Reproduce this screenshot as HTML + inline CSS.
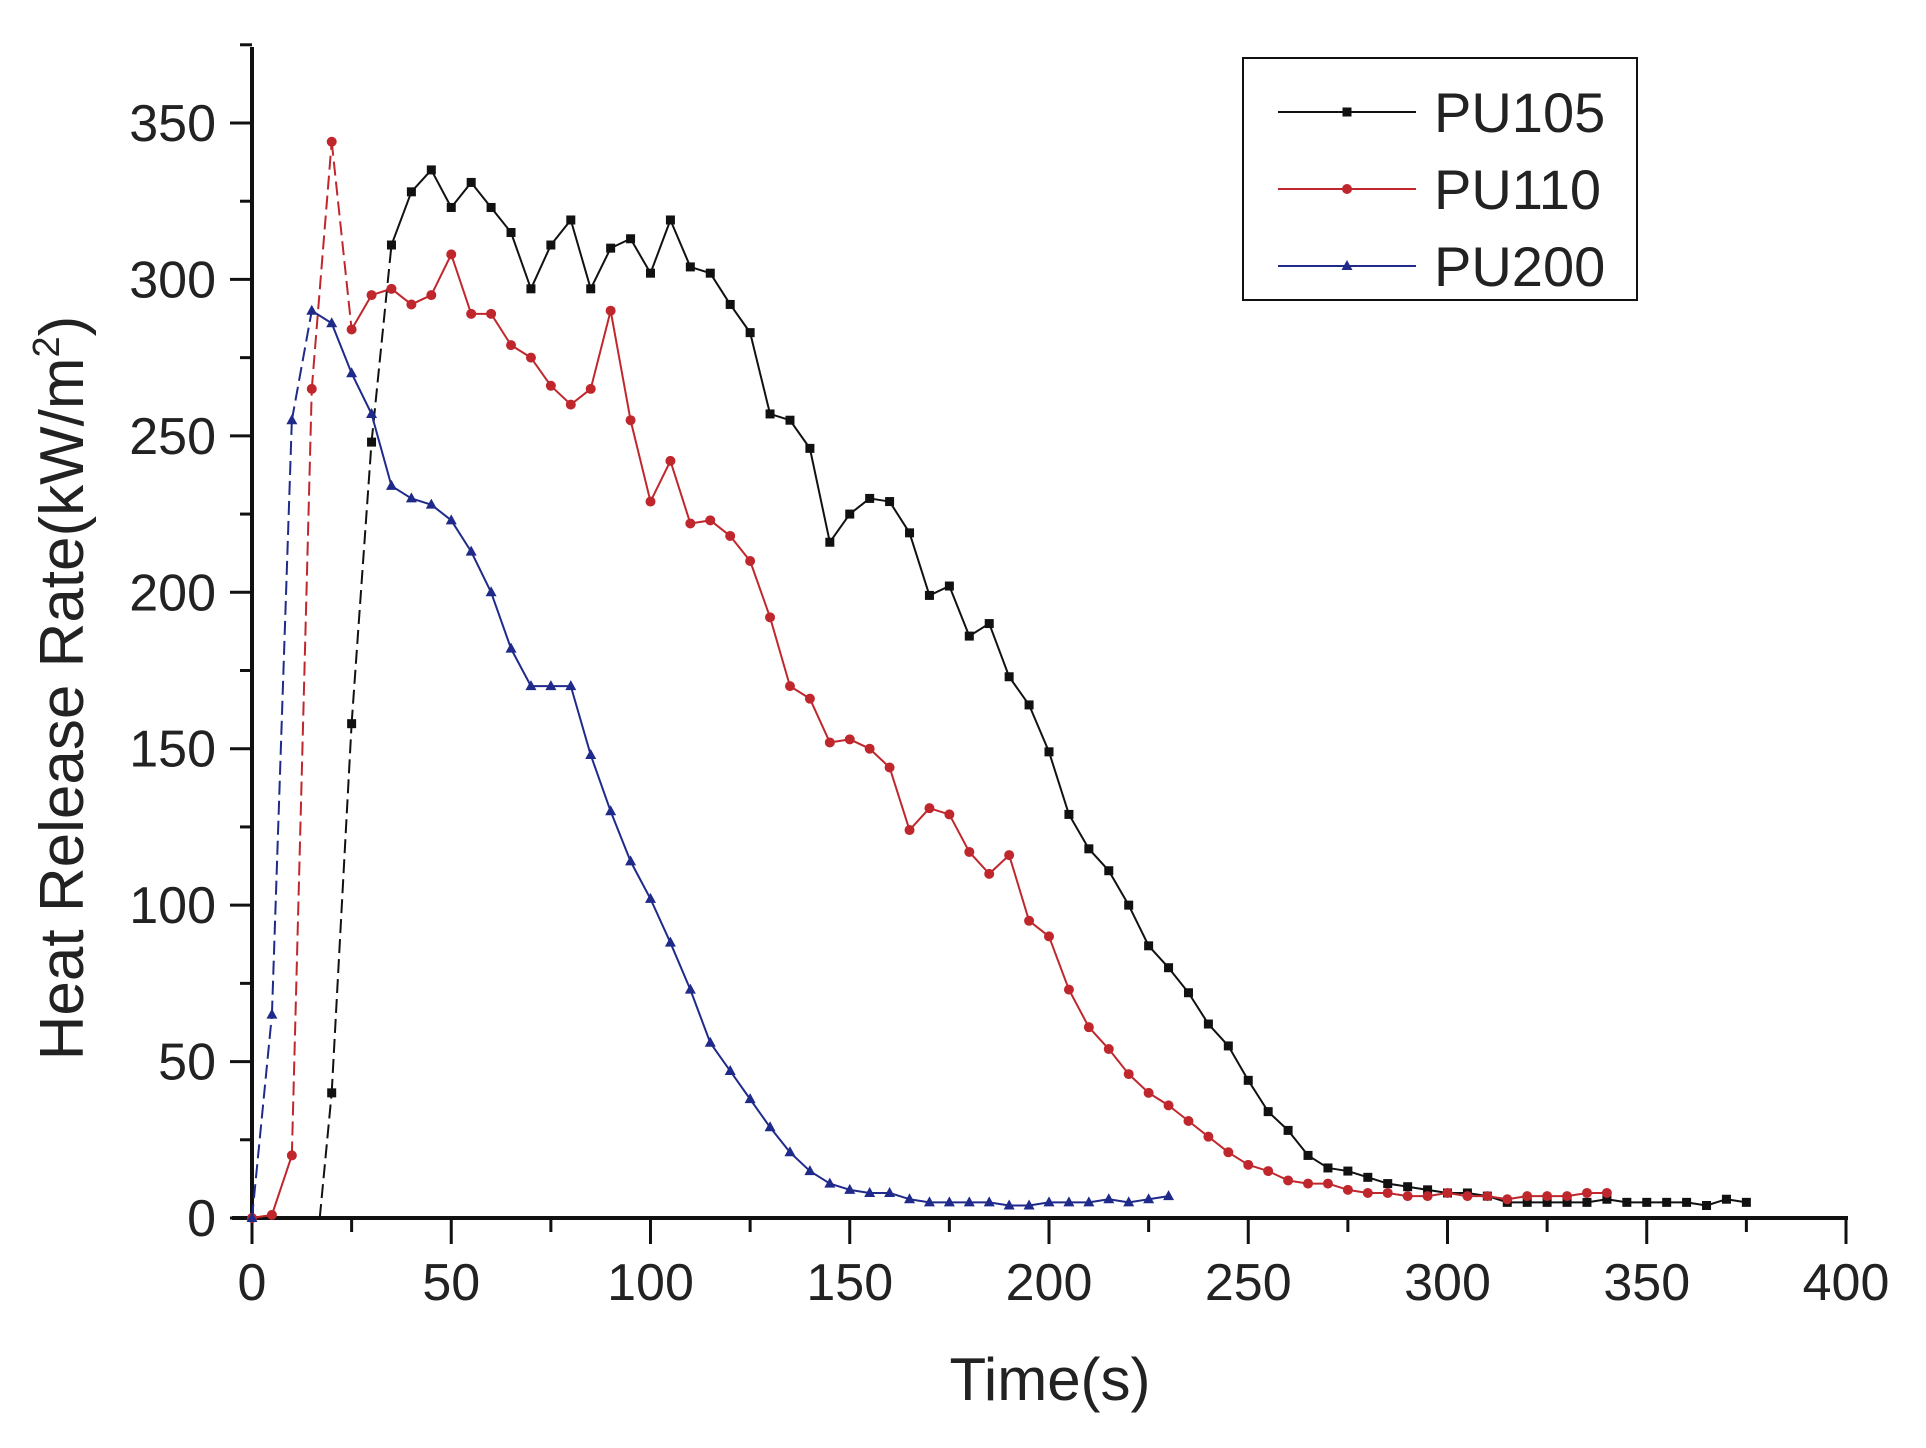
<!DOCTYPE html>
<html><head><meta charset="utf-8"><style>
body{margin:0;background:#fff;}
svg text{font-family:"Liberation Sans",sans-serif;}
</style></head><body>
<svg id="chart" width="1926" height="1443" viewBox="0 0 1926 1443" xmlns="http://www.w3.org/2000/svg"></svg>
<script>
const xTicks=[0,50,100,150,200,250,300,350,400];
const yTicks=[0,50,100,150,200,250,300,350];
const seriesNames=["PU105","PU110","PU200"];
const pu105T=[17,20,25,30,35,40,45,50,55,60,65,70,75,80,85,90,95,100,105,110,115,120,125,130,135,140,145,150,155,160,165,170,175,180,185,190,195,200,205,210,215,220,225,230,235,240,245,250,255,260,265,270,275,280,285,290,295,300,305,310,315,320,325,330,335,340,345,350,355,360,365,370,375];
const pu105V=[0,40,158,248,311,328,335,323,331,323,315,297,311,319,297,310,313,302,319,304,302,292,283,257,255,246,216,225,230,229,219,199,202,186,190,173,164,149,129,118,111,100,87,80,72,62,55,44,34,28,20,16,15,13,11,10,9,8,8,7,5,5,5,5,5,6,5,5,5,5,4,6,5];
const pu110T=[0,5,10,15,20,25,30,35,40,45,50,55,60,65,70,75,80,85,90,95,100,105,110,115,120,125,130,135,140,145,150,155,160,165,170,175,180,185,190,195,200,205,210,215,220,225,230,235,240,245,250,255,260,265,270,275,280,285,290,295,300,305,310,315,320,325,330,335,340];
const pu110V=[0,1,20,265,344,284,295,297,292,295,308,289,289,279,275,266,260,265,290,255,229,242,222,223,218,210,192,170,166,152,153,150,144,124,131,129,117,110,116,95,90,73,61,54,46,40,36,31,26,21,17,15,12,11,11,9,8,8,7,7,8,7,7,6,7,7,7,8,8];
const pu200T=[0,5,10,15,20,25,30,35,40,45,50,55,60,65,70,75,80,85,90,95,100,105,110,115,120,125,130,135,140,145,150,155,160,165,170,175,180,185,190,195,200,205,210,215,220,225,230];
const pu200V=[0,65,255,290,286,270,257,234,230,228,223,213,200,182,170,170,170,148,130,114,102,88,73,56,47,38,29,21,15,11,9,8,8,6,5,5,5,5,4,4,5,5,5,6,5,6,7];
const dashUntil=[35,20,15];
const colors=["#111","#c0272d","#1f2a8a"];
const markers=["square","circle","triangle"];

const X0=252,X1=1846,Y0=1218,Y1=123;
const xs=v=>X0+(v-0)/(400)*(X1-X0);
const ys=v=>Y0-(v)/(350)*(Y0-Y1);
const svg=document.getElementById('chart');
const NS="http://www.w3.org/2000/svg";
function mk(tag,attrs,parent){const e=document.createElementNS(NS,tag);for(const k in attrs)e.setAttribute(k,attrs[k]);(parent||svg).appendChild(e);return e;}

let g=mk('g',{});


mk('line',{x1:X0,y1:47,x2:X0,y2:Y0+2,stroke:'#111','stroke-width':4},g);
mk('line',{x1:X0-20,y1:Y0,x2:X1+2,y2:Y0,stroke:'#111','stroke-width':4},g);
for(let i=0;i<xTicks.length;i++){
  const x=xs(xTicks[i]);
  mk('line',{x1:x,y1:Y0,x2:x,y2:Y0+26,stroke:'#111','stroke-width':3},g);
  if(i<xTicks.length-1){const xm=xs(xTicks[i]+25);mk('line',{x1:xm,y1:Y0,x2:xm,y2:Y0+14,stroke:'#111','stroke-width':3},g);}
  const t=mk('text',{x:x,y:Y0+82,'font-size':52,'text-anchor':'middle',fill:'#222'},g);
  t.textContent=xTicks[i];
  
  
}
for(let i=0;i<yTicks.length;i++){
  const y=ys(yTicks[i]);
  mk('line',{x1:X0-22,y1:y,x2:X0,y2:y,stroke:'#111','stroke-width':3},g);
  const ym=ys(yTicks[i]+25);
  mk('line',{x1:X0-12,y1:ym,x2:X0,y2:ym,stroke:'#111','stroke-width':3},g);
  const t=mk('text',{x:X0-36,y:y+18,'font-size':52,'text-anchor':'end',fill:'#222'},g);
  t.textContent=yTicks[i];
  
  
}
let xt=mk('text',{x:1050,y:1400,'font-size':60,'text-anchor':'middle',fill:'#222'});
xt.textContent='Time(s)';


let yt=mk('text',{x:0,y:0,'font-size':62,'text-anchor':'middle',fill:'#222',transform:'translate(83,688) rotate(-90)'});
yt.innerHTML='Heat Release Rate(kW/m<tspan dy="-24" font-size="38">2</tspan><tspan dy="24">)</tspan>';



function marker(type,x,y,c,parent){
  if(type==='square')return mk('rect',{x:x-4.5,y:y-4.5,width:9,height:9,fill:c},parent);
  if(type==='circle')return mk('circle',{cx:x,cy:y,r:5,fill:c},parent);
  return mk('polygon',{points:`${x},${y-6} ${x-5.5},${y+4} ${x+5.5},${y+4}`,fill:c},parent);
}
const allT=[pu105T,pu110T,pu200T],allV=[pu105V,pu110V,pu200V];
for(let s=0;s<3;s++){
  const sg=mk('g',{});
  
  
  const T=allT[s],V=allV[s];
  for(let i=0;i<T.length-1;i++){
    const dashed=T[i+1]<=dashUntil[s]+0.1 && (V[i+1]-V[i])>30 || (s===1&&T[i]===20);
    const l=mk('line',{x1:xs(T[i]),y1:ys(V[i]),x2:xs(T[i+1]),y2:ys(V[i+1]),stroke:colors[s],'stroke-width':2},sg);
    if(dashed)l.setAttribute('stroke-dasharray','14 6');
  }
  for(let i=0;i<T.length;i++){
    if(s===0&&i===0)continue;
    const m=marker(markers[s],xs(T[i]),ys(V[i]),colors[s],sg);
    
    
  }
}
const lg=mk('g',{});


mk('rect',{x:1243,y:58,width:394,height:242,fill:'#fff',stroke:'#111','stroke-width':2},lg);
for(let s=0;s<3;s++){
  const y=112+s*77;
  const eg=mk('g',{},lg);
  
  
  mk('line',{x1:1278,y1:y,x2:1416,y2:y,stroke:colors[s],'stroke-width':2},eg);
  marker(markers[s],1347,y,colors[s],eg);
  const t=mk('text',{x:1434,y:y+20,'font-size':56,fill:'#222'},eg);
  t.textContent=seriesNames[s];
}
</script>
</body></html>
